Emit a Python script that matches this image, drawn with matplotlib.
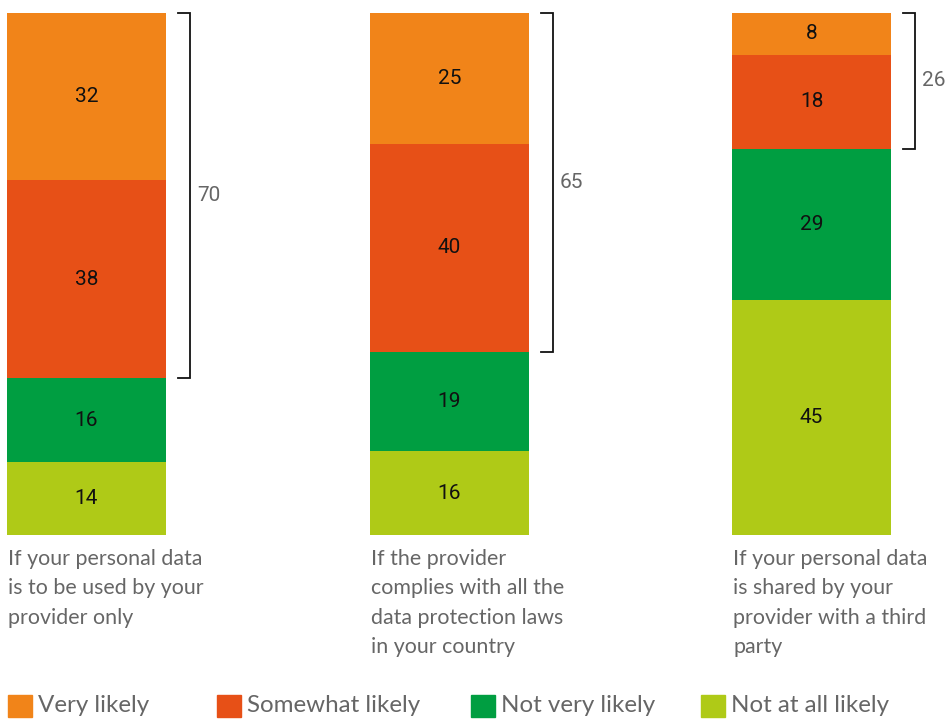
import matplotlib.pyplot as plt
from matplotlib.patches import Rectangle
import numpy as np

# survey answers per scenario (percent)
categories = ['Very likely', 'Somewhat likely', 'Not very likely', 'Not at all likely']
scenarios = [
    'If your personal data\nis to be used by your\nprovider only',
    'If the provider\ncomplies with all the\ndata protection laws\nin your country',
    'If your personal data\nis shared by your\nprovider with a third\nparty',
]
very_likely = [32, 25, 8]
somewhat_likely = [38, 40, 18]
not_very_likely = [16, 19, 29]
not_at_all_likely = [14, 16, 45]
likely_total = [70, 65, 26]

colors = ['#F18419', '#E75017', '#009E41', '#AFCA17']
gray = '#666666'

W, H = 947, 719
fig = plt.figure(figsize=(W / 100, H / 100), dpi=100)
# axes spans full width in pixel units horizontally, 0-100 % vertically
ax = fig.add_axes([0, (H - 535) / H, 1, (535 - 13) / H])
ax.set_xlim(0, W)
ax.set_ylim(0, 100)
ax.axis('off')

lefts = [7, 370, 732]
bar_w = 159
centers = [l + bar_w / 2 for l in lefts]

# stacked from the top down: very likely at the top
series = [very_likely, somewhat_likely, not_very_likely, not_at_all_likely]
top = np.full(3, 100.0)
for vals, col in zip(series, colors):
    vals = np.array(vals, dtype=float)
    bottom = top - vals
    ax.bar(centers, vals, width=bar_w, bottom=bottom, color=col, linewidth=0)
    for c, b, v in zip(centers, bottom, vals):
        ax.text(c, b + v / 2, f'{int(v)}', ha='center', va='center',
                fontsize=15, family='Roboto', color='#111111')
    top = bottom

# brackets for the "likely" share
for l, tot in zip(lefts, likely_total):
    x0 = l + bar_w + 12
    x1 = x0 + 12
    y0 = 100 - tot
    ax.plot([x0, x1, x1, x0], [100, 100, y0, y0], color='#111111', lw=1.3,
            solid_joinstyle='miter', clip_on=False)
    ax.text(x1 + 7, 100 - tot / 2, f'{tot}', ha='left', va='center',
            fontsize=15, family='Roboto', color=gray)

# scenario captions under the bars
for l, s in zip(lefts, scenarios):
    fig.text((l + 1) / W, 1 - 549 / H, s, ha='left', va='top', fontsize=15.4,
             family='Lato', color=gray, linespacing=1.58)

# legend row
leg_x = [8, 217, 471, 701]
for x, lab, col in zip(leg_x, categories, colors):
    fig.patches.append(Rectangle((x / W, 1 - 717 / H), 24 / W, 22 / H,
                                 transform=fig.transFigure, color=col))
    fig.text((x + 30) / W, 1 - 706 / H, lab, ha='left', va='center',
             fontsize=17.4, family='Lato', color=gray)

fig.savefig('out.png', dpi=100)
